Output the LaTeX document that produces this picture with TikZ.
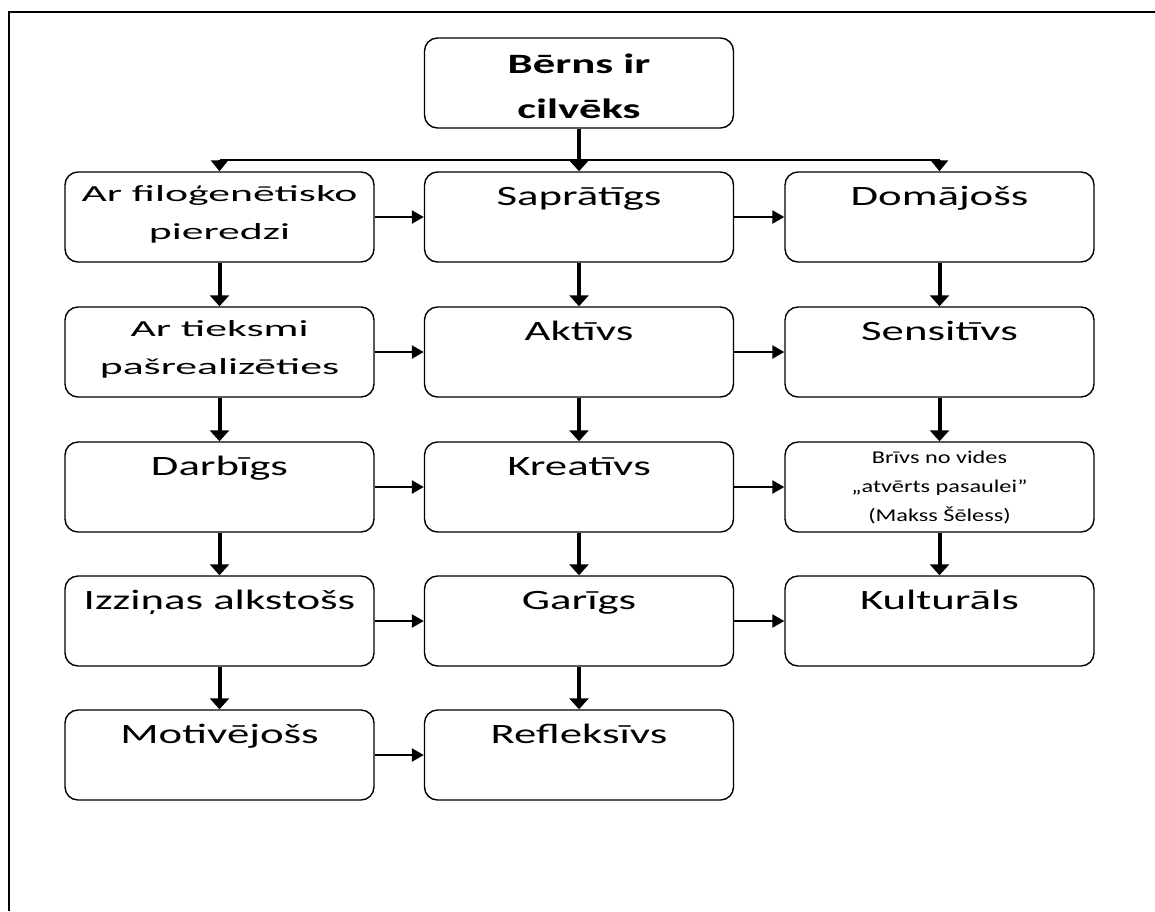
\documentclass[tikz,border=0pt]{standalone}
\usepackage{fontspec}
\setmainfont{Carlito}
\newfontfamily\wordfont[FakeStretch=1.6]{Carlito}
\newfontfamily\widefont[FakeStretch=1.9]{Carlito}
\newfontfamily\narrowfont[FakeStretch=1.35]{Carlito}
\usetikzlibrary{arrows.meta, positioning}

\begin{document}
\begin{tikzpicture}[x=1pt, y=-1pt,
    box/.style={draw, line width=1.4pt, rounded corners=13pt,
      minimum width=309pt, minimum height=90pt, inner sep=0pt},
    txt/.style={anchor=north, inner sep=0pt, align=center,
      font=\wordfont\fontsize{28}{45}\selectfont},
    txtmid/.style={txt, font=\widefont\fontsize{23}{38}\selectfont},
    txtsmall/.style={txt, font=\narrowfont\fontsize{18}{29}\selectfont},
    down/.style={line width=4pt, -{Triangle[length=11pt, width=19pt]}},
    side/.style={line width=2.5pt, -{Triangle[length=12pt, width=13pt]}}]
  \useasboundingbox (0,0) rectangle (1155,911);
  % frame
  \draw[line width=2pt] (8.5,911) -- (8.5,11.5) -- (1155,11.5);

  % top
  \node[box] (top) at (579,83) {};
  \node[txt, font=\wordfont\bfseries\fontsize{28}{45}\selectfont]
    (topt) at ([yshift=-4pt]top.north) {\strut B\=erns ir\\cilv\=eks};

  % column 1
  \node[box] (filo) at (219.5,217) {};
  \node[box] (tiek) at (219.5,352) {};
  \node[box] (darb) at (219.5,487) {};
  \node[box] (izzi) at (219.5,621) {};
  \node[box] (moti) at (219.5,755) {};
  % column 2
  \node[box] (sapr) at (579,217) {};
  \node[box] (aktv) at (579,352) {};
  \node[box] (krea) at (579,487) {};
  \node[box] (gari) at (579,621) {};
  \node[box] (refl) at (579,755) {};
  % column 3
  \node[box] (doma) at (939.5,217) {};
  \node[box] (sens) at (939.5,352) {};
  \node[box] (briv) at (939.5,487) {};
  \node[box] (kult) at (939.5,621) {};

  % texts
  \node[txtmid] (filot) at ([yshift=-3pt]filo.north) {\strut Ar filoģenētisko\\pieredzi};
  \node[txtmid] (tiekt) at ([yshift=-3pt]tiek.north) {\strut Ar tieksmi\\pašrealizēties};
  \node[txt] (darbt) at ([yshift=-2pt]darb.north) {\strut Darbīgs};
  \node[txt] (izzit) at ([yshift=-2pt]izzi.north) {\strut Izziņas alkstošs};
  \node[txt] (motit) at ([yshift=-2pt]moti.north) {\strut Motivējošs};
  \node[txt] (saprt) at ([yshift=-2pt]sapr.north) {\strut Saprātīgs};
  \node[txt] (aktvt) at ([yshift=-2pt]aktv.north) {\strut Aktīvs};
  \node[txt] (kreat) at ([yshift=-2pt]krea.north) {\strut Kreatīvs};
  \node[txt] (garit) at ([yshift=-2pt]gari.north) {\strut Garīgs};
  \node[txt] (reflt) at ([yshift=-2pt]refl.north) {\strut Refleksīvs};
  \node[txt] (domat) at ([yshift=-2pt]doma.north) {\strut Domājošs};
  \node[txt] (senst) at ([yshift=-2pt]sens.north) {\strut Sensitīvs};
  \node[txtsmall] (brivt) at ([yshift=-2pt]briv.north) {\strut Brīvs no vides\\„atvērts pasaulei”\\(Makss Šēless)};
  \node[txt] (kultt) at ([yshift=-2pt]kult.north) {\strut Kulturāls};

  % split under the top box
  \coordinate (jl) at (219.5,160);
  \coordinate (jr) at (939.5,160);
  \draw[line width=2.5pt] (jl) -- (jr);
  \draw[down] (top) -- (sapr);
  \draw[side, -{Triangle[length=11pt, width=17pt]}] (jl) -- (filo);
  \draw[side, -{Triangle[length=11pt, width=17pt]}] (jr) -- (doma);

  % down arrows
  \draw[down] (filo) -- (tiek);
  \draw[down] (tiek) -- (darb);
  \draw[down] (darb) -- (izzi);
  \draw[down] (izzi) -- (moti);
  \draw[down] (sapr) -- (aktv);
  \draw[down] (aktv) -- (krea);
  \draw[down] (krea) -- (gari);
  \draw[down] (gari) -- (refl);
  \draw[down] (doma) -- (sens);
  \draw[down] (sens) -- (briv);
  \draw[down] (briv) -- (kult);

  % side arrows
  \draw[side] (filo) -- (sapr);
  \draw[side] (sapr) -- (doma);
  \draw[side] (tiek) -- (aktv);
  \draw[side] (aktv) -- (sens);
  \draw[side] (darb) -- (krea);
  \draw[side] (krea) -- (briv);
  \draw[side] (izzi) -- (gari);
  \draw[side] (gari) -- (kult);
  \draw[side] (moti) -- (refl);
\end{tikzpicture}
\end{document}
